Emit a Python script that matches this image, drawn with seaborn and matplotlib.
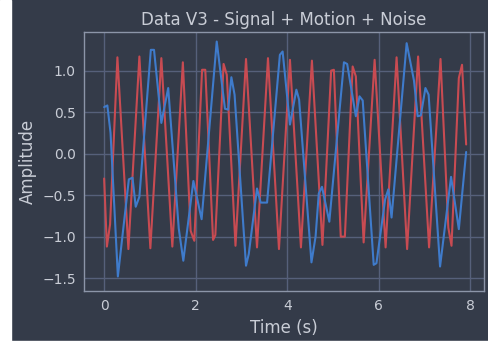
import numpy as np
import pandas as pd
import matplotlib
matplotlib.use("Agg")
import matplotlib.pyplot as plt
import seaborn as sns
from matplotlib.patches import Rectangle

# --- data (polyline vertices) ---
motion_t = [0.00, 0.06, 0.13, 0.29, 0.53, 0.77, 1.01, 1.25, 1.49, 1.72, 1.89, 1.97,
            2.14, 2.21, 2.38, 2.43, 2.61, 2.68, 2.87, 3.10, 3.34, 3.58, 3.82, 4.06,
            4.30, 4.54, 4.77, 4.96, 5.02, 5.17, 5.26, 5.43, 5.50, 5.67, 5.91, 6.15,
            6.39, 6.62, 6.86, 7.10, 7.35, 7.52, 7.59, 7.75, 7.82, 7.91]
motion_v = [-0.30, -1.12, -0.85, 1.16, -1.15, 1.17, -1.14, 1.15, -1.12, 1.10, -0.93, -1.05,
            1.01, 1.01, -1.04, -0.98, 1.08, 0.95, -1.11, 1.14, -1.13, 1.15, -1.15, 1.13,
            -1.13, 1.12, -1.10, 1.00, 1.01, -1.00, -1.00, 1.05, 0.93, -1.07, 1.13, -1.13,
            1.16, -1.15, 1.17, -1.13, 1.14, -0.89, -1.11, 0.91, 1.07, 0.11]

signal_t = [0.00, 0.07, 0.14, 0.30, 0.54, 0.62, 0.69, 0.77, 1.02, 1.09, 1.25, 1.40,
            1.63, 1.73, 1.95, 2.13, 2.46, 2.64, 2.71, 2.78, 2.85, 3.10, 3.16, 3.34,
            3.42, 3.56, 3.84, 3.90, 4.06, 4.20, 4.26, 4.53, 4.62, 4.69, 4.76, 4.92,
            5.24, 5.31, 5.50, 5.58, 5.65, 5.89, 5.95, 6.14, 6.21, 6.28, 6.61, 6.77,
            6.85, 6.92, 7.02, 7.09, 7.34, 7.58, 7.75, 7.91]
signal_v = [0.56, 0.58, 0.25, -1.48, -0.31, -0.29, -0.64, -0.52, 1.25, 1.25, 0.37, 0.79,
            -0.90, -1.29, -0.33, -0.79, 1.35, 0.54, 0.53, 0.92, 0.71, -1.35, -1.21, -0.42,
            -0.59, -0.59, 1.19, 1.23, 0.35, 0.77, 0.65, -1.31, -1.00, -0.48, -0.40, -0.82,
            1.10, 1.08, 0.45, 0.69, 0.64, -1.34, -1.32, -0.55, -0.43, -0.77, 1.33, 0.88,
            0.45, 0.46, 0.79, 0.71, -1.36, -0.28, -0.91, 0.02]

title = "Data V3 - Signal + Motion + Noise"
xlabel = "Time (s)"
ylabel = "Amplitude"

BG = "#343b49"
GRID = "#56607a"
TXT = "#c9cdd6"
RED = "#c84b52"
BLUE = "#3f7bcb"

sns.set_theme(style="darkgrid", rc={
    "axes.facecolor": BG,
    "figure.facecolor": BG,
    "grid.color": GRID,
    "grid.linewidth": 1.0,
    "axes.edgecolor": "#8c95a8",
    "axes.labelcolor": TXT,
    "xtick.color": TXT,
    "ytick.color": TXT,
    "text.color": TXT,
})
plt.rcParams["font.family"] = ["DejaVu Sans"]

fig = plt.figure(figsize=(4.88, 3.43), dpi=100)
ax = fig.add_axes([84 / 488, 1 - 291 / 343, 400 / 488, 259 / 343])

df_m = pd.DataFrame({"t": motion_t, "v": motion_v})
df_s = pd.DataFrame({"t": signal_t, "v": signal_v})
sns.lineplot(data=df_m, x="t", y="v", ax=ax, color=RED, linewidth=1.5,
             sort=False, estimator=None)
sns.lineplot(data=df_s, x="t", y="v", ax=ax, color=BLUE, linewidth=1.5,
             sort=False, estimator=None)

ax.set_xlim(-0.44, 8.3)
ax.set_ylim(-1.655, 1.465)
ax.set_xticks([0, 2, 4, 6, 8])
ax.set_yticks([-1.5, -1.0, -0.5, 0.0, 0.5, 1.0])
ax.set_yticklabels(["\u22121.5", "\u22121.0", "\u22120.5", "0.0", "0.5", "1.0"])
ax.tick_params(labelsize=10, length=0, pad=6)
ax.set_xlabel(xlabel, fontsize=12, labelpad=4)
ax.set_ylabel(ylabel, fontsize=12, labelpad=4)
ax.set_title(title, fontsize=12, pad=5)
for s in ax.spines.values():
    s.set_visible(True)
    s.set_linewidth(1.0)

# light margin strips as in the reference
fig.patches.append(Rectangle((0, 0), 11 / 488, 1, transform=fig.transFigure,
                             color="white", zorder=-1))
fig.patches.append(Rectangle((0, 0), 1, 2 / 343, transform=fig.transFigure,
                             color="white", zorder=-1))

fig.savefig("out.png", dpi=100, facecolor=BG)
